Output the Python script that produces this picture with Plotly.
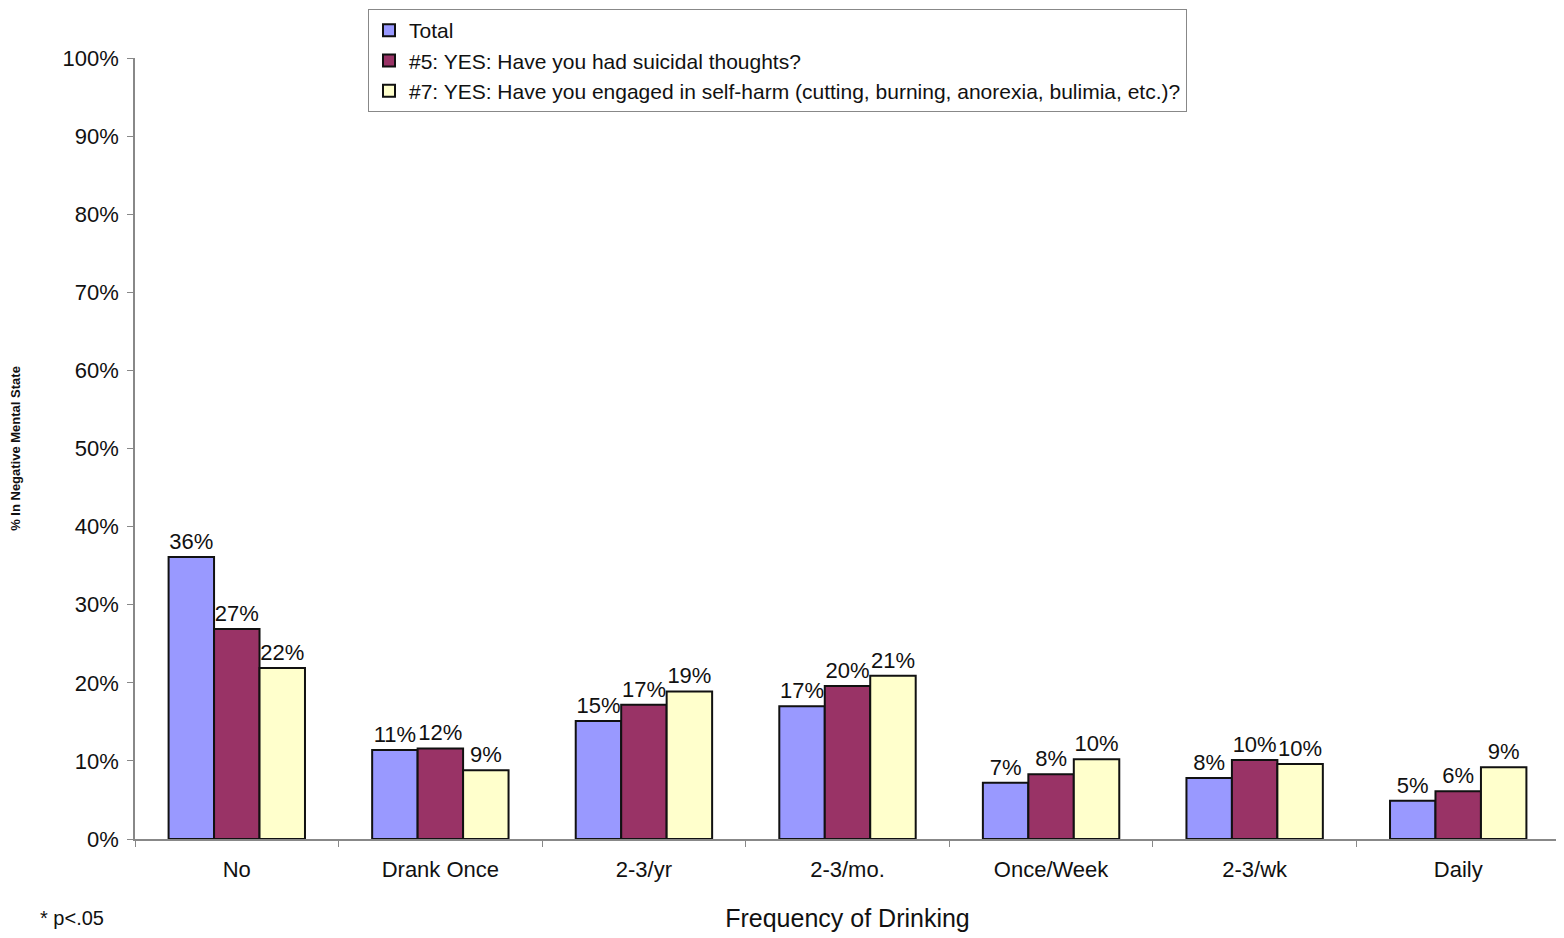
import plotly.graph_objects as go

categories = ["No", "Drank Once", "2-3/yr", "2-3/mo.", "Once/Week", "2-3/wk", "Daily"]
total = [36.1, 11.4, 15.1, 17.0, 7.2, 7.8, 4.9]
suicidal = [26.9, 11.6, 17.2, 19.6, 8.3, 10.1, 6.1]
selfharm = [21.9, 8.8, 18.9, 20.9, 10.2, 9.6, 9.2]
y_ticks = [0, 10, 20, 30, 40, 50, 60, 70, 80, 90, 100]
y_tick_labels = ["0%", "10%", "20%", "30%", "40%", "50%", "60%", "70%", "80%", "90%", "100%"]

names = ["Total",
         "#5: YES: Have you had suicidal thoughts?",
         "#7: YES: Have you engaged in self-harm (cutting, burning, anorexia, bulimia, etc.)?"]
colors = ["#9999FF", "#993366", "#FFFFCC"]

FONT = "Liberation Sans, Arial, sans-serif"
fig = go.Figure()
for name, vals, col in zip(names, [total, suicidal, selfharm], colors):
    fig.add_trace(go.Bar(
        x=categories, y=vals, name=name,
        marker=dict(color=col, line=dict(color="#111111", width=2)),
        texttemplate="%{y:.0f}%", textposition="outside",
        textfont=dict(size=22, color="#111111", family=FONT),
        cliponaxis=False,
    ))

fig.update_layout(
    width=1556, height=930,
    margin=dict(l=127, r=4, t=50, b=99, autoexpand=False),
    paper_bgcolor="white", plot_bgcolor="white",
    barmode="group", bargap=0.33, bargroupgap=0,
    font=dict(family=FONT, size=21, color="#111111"),
    showlegend=True,
    legend=dict(x=(368 - 135) / 1425, y=1 + 49 / 781, xanchor="left", yanchor="top",
                bordercolor="#888888", borderwidth=1, bgcolor="white",
                font=dict(size=21, family=FONT), tracegroupgap=0,
                itemsizing="constant"),
    xaxis=dict(showline=True, linecolor="#888888", linewidth=1.5,
               ticks="outside", tickson="boundaries", ticklen=6, tickcolor="#888888",
               tickfont=dict(size=22), showgrid=False, automargin=False,
               ticklabelstandoff=10,
               title=dict(text="Frequency of Drinking", font=dict(size=25), standoff=28)),
    yaxis=dict(range=[0, 100], tickvals=y_ticks, ticktext=y_tick_labels,
               showline=True, linecolor="#888888", linewidth=1.5,
               ticks="outside", ticklen=6, tickcolor="#888888", ticklabelstandoff=4,
               tickfont=dict(size=22), showgrid=False, zeroline=False, automargin=False,
               title=dict(text="<b>% In Negative Mental State</b>", font=dict(size=13), standoff=40)),
    annotations=[dict(text="* p<.05", x=(38 - 135) / 1425, y=(839 - 918) / 781,
                      xref="paper", yref="paper", xanchor="left", yanchor="middle",
                      showarrow=False, font=dict(size=20))],
)

fig.write_html("out.html")
